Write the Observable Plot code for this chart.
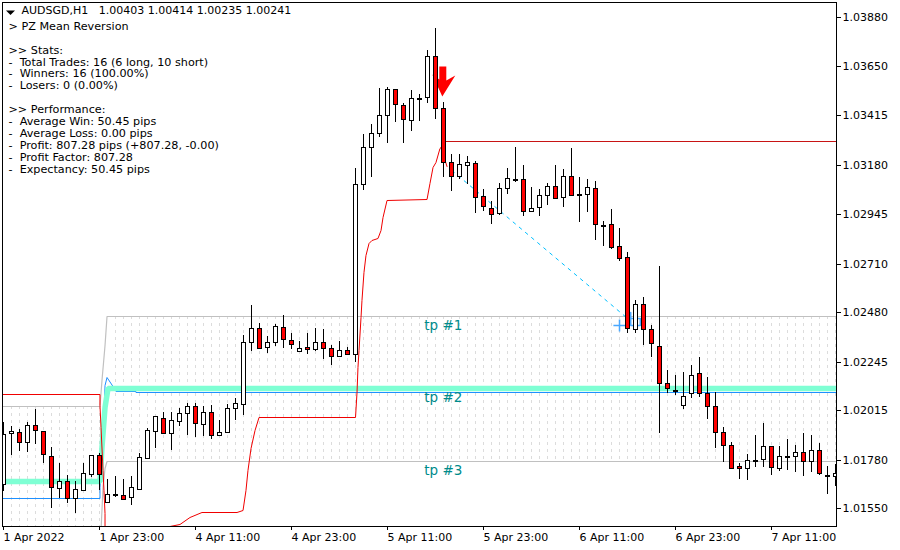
<!DOCTYPE html>
<html>
<head>
<meta charset="utf-8">
<style>html,body{margin:0;padding:0;background:#fff}</style>
<script src="https://cdn.jsdelivr.net/npm/d3@7"></script>
<script src="https://cdn.jsdelivr.net/npm/@observablehq/plot@0.6"></script>
</head>
<body>
<div id="chart"></div>
<script>
// Prices are written in points (1 point = 0.00001)
const opens = [101664,101906,101911,101864,101944,101916,101797,101645,101679,101598,101636,101712,101802,101579,101612,101612,101603,101641,101788,101916,101978,101906,101963,102001,102035,101949,102006,101897,101911,102025,102044,102338,102405,102314,102338,102409,102348,102295,102314,102305,102338,102310,102272,102300,102281,103088,103263,103330,103415,103539,103463,103391,103491,103501,103695,103449,103192,103126,103178,103188,103031,102974,102950,103069,103107,103112,102960,102979,103036,103078,103026,103126,103036,103040,103069,102889,102898,102794,102742,102400,102519,102400,102319,102144,102106,102039,102096,102191,102096,102035,101911,101849,101750,101740,101774,101783,101845,101740,101793,101797,101816,101774,101826,101702,101702];
const highs = [101959,101940,101925,101959,102020,101916,101840,101764,101707,101679,101764,101802,101811,101688,101702,101688,101702,101811,101930,101987,102006,102006,102025,102049,102049,102035,102039,101968,102044,102072,102371,102514,102428,102367,102424,102466,102381,102343,102381,102405,102400,102324,102343,102314,103164,103325,103373,103543,103548,103539,103472,103534,103515,103724,103828,103477,103230,103230,103221,103197,103064,103007,103093,103164,103263,103178,103074,103064,103093,103178,103159,103259,103121,103112,103102,102912,102970,102879,102765,102538,102552,102419,102699,102205,102182,102196,102229,102267,102172,102101,101935,101864,101764,101807,101897,101954,101845,101845,101878,101849,101906,101897,101859,101750,101759];
const lows = [101631,101802,101821,101816,101854,101764,101551,101598,101574,101527,101636,101698,101636,101574,101603,101593,101565,101636,101783,101835,101902,101826,101940,101897,101887,101892,101878,101892,101906,101968,101992,102295,102310,102286,102319,102310,102305,102295,102281,102295,102258,102229,102267,102277,102243,103059,103121,103311,103283,103382,103283,103339,103387,103472,103396,103121,103055,103112,103088,102950,102960,102898,102941,103040,103098,102936,102955,102936,102988,103021,102979,103036,102908,102955,102822,102794,102780,102723,102381,102381,102324,102267,101906,102096,102087,102020,102072,102077,101973,101835,101769,101740,101688,101683,101745,101745,101707,101726,101731,101721,101702,101721,101707,101617,101655];
const closes = [101902,101916,101864,101944,101921,101807,101650,101679,101598,101641,101717,101802,101712,101617,101617,101593,101650,101793,101921,101987,101906,101968,102001,102035,101954,102006,101897,101911,102025,102049,102338,102405,102310,102338,102414,102352,102329,102310,102305,102338,102310,102272,102300,102281,103088,103263,103330,103415,103539,103468,103396,103496,103496,103695,103449,103192,103126,103183,103192,103026,102984,102946,103069,103116,103112,102960,102974,103036,103078,103021,103126,103036,103040,103074,102898,102893,102789,102737,102405,102519,102400,102333,102144,102120,102110,102082,102182,102096,102035,101911,101849,101740,101740,101778,101778,101845,101745,101797,101797,101816,101774,101826,101717,101707,101717];

// Indicator lines: bar position (may be fractional) and price in points
const envX = [-0.06,12.06,12.06,12.19,12.44,12.56,12.69,12.69,19.5,20.81,22.06,23.31,24.81,29.19,29.94,30.31,30.56,30.94,31.44,31.94,44,44.19,44.31,44.44,44.69,44.81,45.06,45.31,45.69,46.06,46.81,47.19,47.44,47.94,52.94,53.31,53.69,54.06,54.56,54.69,55.44];
const envY = [102091,102091,102039,101935,101731,101636,101527,101399,101399,101465,101475,101508,101532,101532,101541,101636,101731,101835,101921,101982,101982,102101,102220,102300,102457,102538,102670,102751,102808,102822,102832,102870,102931,103012,103017,103093,103169,103192,103259,103263,103173];
const entryX = [54.94,104.2];
const entryY = [103292,103292];
const tp1X = [-0.06,12.06,12.31,12.69,12.94,104.2];
const tp1Y = [102035,102035,102157,102323,102462,102462];
const tp3X = [12.19,12.44,12.69,12.94,104.2];
const tp3Y = [101446,101650,101740,101774,101774];
const meanX = [-0.06,12.06,12.31,12.69,13.06,104.2];
const meanY = [101679,101679,101840,102030,102118,102118];
const blueX = [-0.06,12.06,12.06,12.44,12.69,12.94,13.69,14.06,16.56,16.56,104.2];
const blueY = [101598,101598,101650,101873,102134,102172,102129,102106,102106,102101,102101];
const tradeX = [56.06,78.31];
const tradeY = [103152,102443];
const closeMarkX = [77];
const closeMarkY = [102420];
const closeTagX = [78.4,78.4,79.6,79.6,78.5];
const closeTagY = [102480,102420,102420,102450,102450];

const yTicks = [103880,103650,103415,103180,102945,102710,102480,102245,102015,101780,101550];
const xTickIndex = [0,12,24,36,48,60,72,84,96];
const xTickLabels = ["1 Apr 2022","1 Apr 23:00","4 Apr 11:00","4 Apr 23:00","5 Apr 11:00","5 Apr 23:00","6 Apr 11:00","6 Apr 23:00","7 Apr 11:00"];
const tpNames = ["tp #1","tp #2","tp #3"];
const tpPrices = [102420,102075,101730];
const tpIndex = 52.6;
const dotZones = [{bars:d3.range(1,13),top:102035,bottom:101465},{bars:d3.range(14,105),top:102462,bottom:101774}];
const header = "AUDSGD,H1   1.00403 1.00414 1.00235 1.00241";
const panel = ["> PZ Mean Reversion","",">> Stats:","-  Total Trades: 16 (6 long, 10 short)","-  Winners: 16 (100.00%)","-  Losers: 0 (0.00%)","",">> Performance:","-  Average Win: 50.45 pips","-  Average Loss: 0.00 pips","-  Profit: 807.28 pips (+807.28, -0.00)","-  Profit Factor: 807.28","-  Expectancy: 50.45 pips"];

const p = v => v / 1e5;
const bars = opens.map((o,i)=>({i,o:p(o),h:p(highs[i]),l:p(lows[i]),c:p(closes[i])}));
const pts = (xs,ys)=>xs.map((x,k)=>({x,y:p(ys[k])}));
const arrowSymbol = {draw(c){
  c.moveTo(-3,-16);c.lineTo(4,-16);c.lineTo(4,-2);c.lineTo(13,-7);c.lineTo(0,14);c.lineTo(-10,-8);c.lineTo(-3,-3);c.closePath();
}};
const triangleSymbol = {draw(c){c.moveTo(-4.5,-2);c.lineTo(4.5,-2);c.lineTo(0,2.5);c.closePath();}};
const font = '"DejaVu Sans"';
const line = (xs,ys,o)=>Plot.line(pts(xs,ys),{x:"x",y:"y",clip:true,curve:"linear",...o});

const chart = Plot.plot({
  width:900,height:550,
  marginLeft:2,marginRight:64,marginTop:2,marginBottom:24,
  style:{background:"#fff",fontFamily:font,whiteSpace:"pre",color:"#000"},
  x:{type:"linear",domain:[-0.125,104.125],range:[2,836]},
  y:{type:"linear",domain:[p(103951.5),p(101465)],range:[2,526],round:true},
  marks:[
    ...dotZones.map(z=>Plot.ruleX(z.bars,{x:d=>d,y1:p(z.top),y2:p(z.bottom),stroke:"#dcdcdc",strokeWidth:1,strokeDasharray:"3 4",clip:true})),
    line(tp1X,tp1Y,{stroke:"#c0c0c0",strokeWidth:1.2}),
    line(tp3X,tp3Y,{stroke:"#c0c0c0",strokeWidth:1.2}),
    line(blueX,blueY,{stroke:"#1e90ff",strokeWidth:1}),
    line(meanX,meanY,{stroke:"#7fffd4",strokeWidth:5.5,strokeLinejoin:"miter"}),
    line(envX,envY,{stroke:"#f00000",strokeWidth:1}),
    line(entryX,entryY,{stroke:"#c81414",strokeWidth:1}),
    line(tradeX,tradeY,{stroke:"#00bfff",strokeWidth:1,strokeDasharray:"3 5"}),
    Plot.dot(closeMarkX.map((x,k)=>({x,y:p(closeMarkY[k])})),{x:"x",y:"y",symbol:"plus",r:4,stroke:"#4aa8ff",strokeWidth:1.5}),
    line(closeTagX,closeTagY,{stroke:"#4aa8ff",strokeWidth:1.5}),
    Plot.dot([{x:54.85,y:p(103572)}],{x:"x",y:"y",symbol:arrowSymbol,fill:"#ff0000",stroke:"none",r:3}),
    Plot.text(tpNames,{x:tpIndex,y:(d,k)=>p(tpPrices[k]),text:d=>d,fill:"#008b8b",fontSize:13.5,textAnchor:"start"}),
    Plot.ruleX(bars,{x:"i",y1:"l",y2:"h",stroke:"#000",strokeWidth:1,clip:true}),
    Plot.rect(bars,{x1:d=>d.i-0.25,x2:d=>d.i+0.25,y1:"o",y2:"c",fill:d=>d.c>=d.o?"#fff":"#ff0000",stroke:"#000",strokeWidth:1,dx:0.5,dy:0.5,clip:true}),
    Plot.axisY({anchor:"right",ticks:yTicks.map(p),tickFormat:d=>d.toFixed(5),tickSize:4,tickPadding:2,label:null,fontSize:11,stroke:"#000"}),
    Plot.axisX({anchor:"bottom",ticks:xTickIndex,tickFormat:d=>xTickLabels[xTickIndex.indexOf(d)],tickSize:4,tickPadding:3,label:null,fontSize:11,textAnchor:"start",stroke:"#000"}),
    Plot.frame({stroke:"#000",strokeWidth:1}),
    Plot.dot([0],{frameAnchor:"top-left",dx:8,dy:10,symbol:triangleSymbol,fill:"#000",stroke:"none",r:3}),
    Plot.text([header],{frameAnchor:"top-left",dx:19,dy:4,text:d=>d,fontSize:11,fill:"#000"}),
    Plot.text([panel.join("\n")],{frameAnchor:"top-left",dx:6,dy:18.5,text:d=>d,fontSize:11.2,lineHeight:1.071,fill:"#000"})
  ]
});
document.getElementById("chart").appendChild(chart);
</script>
</body>
</html>
